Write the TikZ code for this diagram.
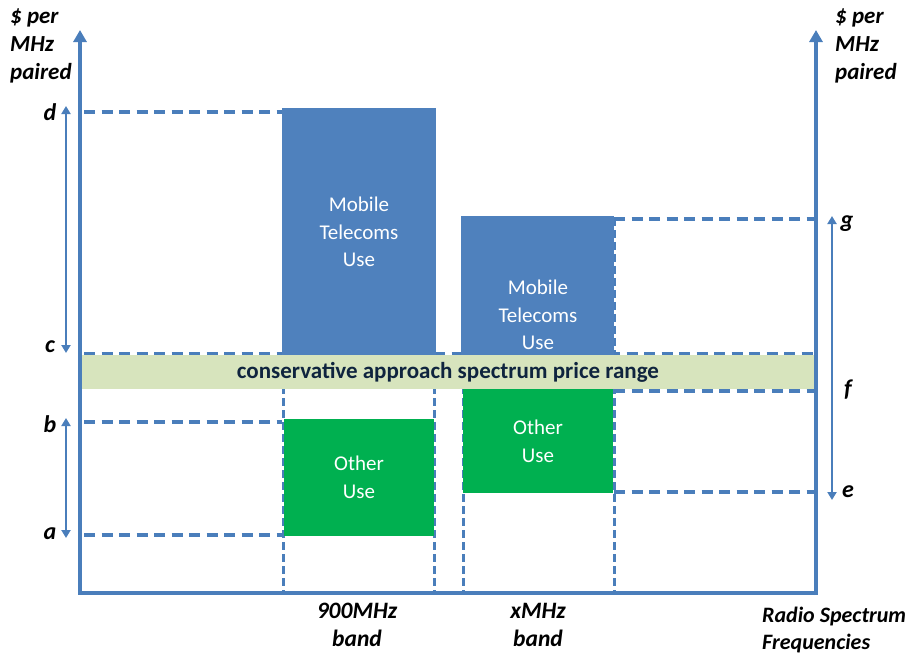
\documentclass[tikz,border=0pt]{standalone}
\usepackage{fontspec}
\setmainfont{Carlito}
\usetikzlibrary{arrows.meta}
\definecolor{axisblue}{HTML}{4A7EBB}
\definecolor{mobileblue}{HTML}{4F81BD}
\definecolor{otheruse}{HTML}{00B050}
\definecolor{bandgreen}{HTML}{D7E4BD}
\definecolor{bandtext}{HTML}{0F243E}
\tikzset{
  axisline/.style={draw=axisblue, line width=4pt, -{Triangle[width=13pt,length=12pt]}},
  levelline/.style={draw=axisblue, line width=3.2pt, dash pattern=on 11pt off 6.5pt},
  bandedge/.style={draw=axisblue, line width=3pt, dash pattern=on 8pt off 4pt},
  rangearrow/.style={draw=axisblue, line width=2.2pt, {Triangle[width=9pt,length=8pt]}-{Triangle[width=9pt,length=8pt]}},
  axlabel/.style={font=\fontsize{23}{28}\selectfont\bfseries\itshape, align=left, inner sep=0pt},
  freqlabel/.style={font=\fontsize{22}{27}\selectfont\bfseries\itshape, align=left, inner sep=0pt},
  letterlabel/.style={font=\fontsize{24}{24}\selectfont\bfseries\itshape, inner sep=0pt},
  blocktext/.style={font=\fontsize{21}{27.5}\selectfont, text=white, align=center, inner sep=0pt},
  bandlabel/.style={font=\fontsize{23}{24}\selectfont\bfseries, text=bandtext, inner sep=0pt},
  bandname/.style={font=\fontsize{23.5}{28}\selectfont\bfseries\itshape, align=center, inner sep=0pt},
}
\begin{document}
\begin{tikzpicture}[x=1pt, y=-1pt]
\useasboundingbox (0,0) rectangle (911,657);

% axis corners
\coordinate (origin) at (80,593);
\coordinate (ytop) at (80,30);
\coordinate (xend) at (816,593);
\coordinate (rtop) at (816,30);

% price levels on the left
\draw[levelline] (84,112) -- (282,112);
\draw[levelline] (84,354) -- (816,354);
\draw[levelline] (84,422) -- (282,422);
\draw[levelline] (84,535) -- (282,535);
% price levels on the right
\draw[levelline] (614,219) -- (814,219);
\draw[levelline] (614,391) -- (814,391);
\draw[levelline] (614,492) -- (814,492);

% band edges
\draw[bandedge] (283,110) -- (283,591);
\draw[bandedge] (434,110) -- (434,591);
\draw[bandedge] (463,218) -- (463,591);
\draw[bandedge] (614,218) -- (614,591);

% mobile telecoms blocks
\fill[mobileblue] (282,108) rectangle (436,355);
\fill[mobileblue] (461,216) rectangle (614,355);
% other use blocks
\fill[otheruse] (284,419) rectangle (434,536);
\fill[otheruse] (463,389) rectangle (613,493);

\node[blocktext] (mob1) at (359,232) {Mobile\\Telecoms\\Use};
\node[blocktext] (mob2) at (538,315) {Mobile\\Telecoms\\Use};
\node[blocktext] (oth1) at (359,477.5) {Other\\Use};
\node[blocktext] (oth2) at (538,441.5) {Other\\Use};

% conservative price range band
\fill[bandgreen] (82,355) rectangle (816,389);
\node[bandlabel] (band) at (448,372) {conservative approach spectrum price range};

% axes
\draw[axisline] (origin) -- (ytop);
\draw[axisblue, line width=4pt] (78,593) -- (xend) -- (816,591);
\draw[axisline] (816,595) -- (rtop);

% axis titles
\node[axlabel, anchor=north west] (ylab) at (10,9) {\$ per\\MHz\\paired};
\node[axlabel, anchor=north west] (rlab) at (835,9) {\$ per\\MHz\\paired};
\node[bandname] (b900) at (357,625) {900MHz\\band};
\node[bandname] (bx) at (538,625) {xMHz\\band};
\node[freqlabel, anchor=north west] (xlab) at (762,607) {Radio Spectrum\\Frequencies};

% level letters
\node[letterlabel] (ld) at (50,112) {d};
\node[letterlabel] (lc) at (50,347) {c};
\node[letterlabel] (lb) at (50,424) {b};
\node[letterlabel] (la) at (50,534) {a};
\node[letterlabel] (lg) at (847,224) {g};
\node[letterlabel] (lf) at (848,390) {f};
\node[letterlabel] (le) at (848,492) {e};

% price ranges
\coordinate (dtop) at (66,106);
\coordinate (cbot) at (66,353);
\coordinate (btop) at (66,418);
\coordinate (abot) at (66,538);
\coordinate (gtop) at (832,216);
\coordinate (ebot) at (832,500);
\draw[rangearrow] (dtop) -- (cbot);
\draw[rangearrow] (btop) -- (abot);
\draw[rangearrow] (gtop) -- (ebot);
\end{tikzpicture}
\end{document}
